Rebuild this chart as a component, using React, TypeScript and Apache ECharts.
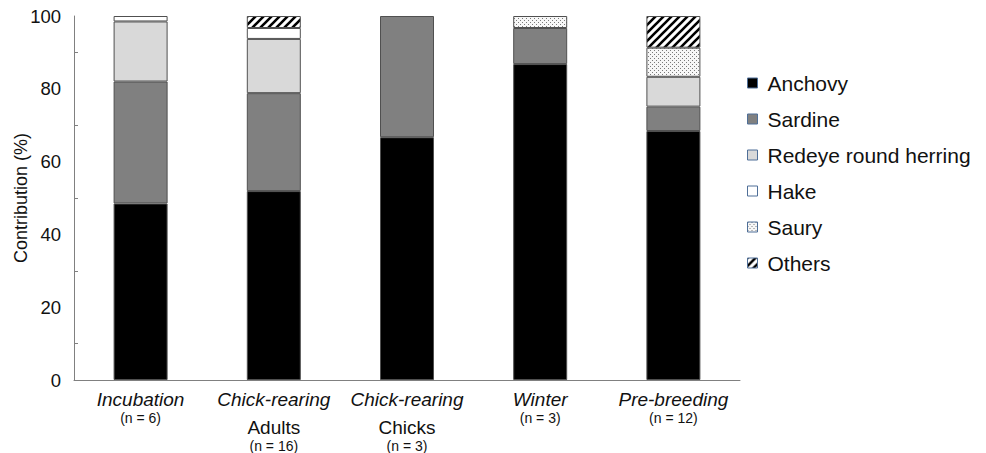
import React, { useEffect, useRef } from "react";
import * as echarts from "echarts";

const categories = ["Incubation", "Chick-rearing Adults", "Chick-rearing Chicks", "Winter", "Pre-breeding"];
const stageLabels = ["Incubation", "Chick-rearing", "Chick-rearing", "Winter", "Pre-breeding"];
const subLabels = ["", "Adults", "Chicks", "", ""];
const nLabels = ["(n = 6)", "(n = 16)", "(n = 3)", "(n = 3)", "(n = 12)"];

const seriesNames = ["Anchovy", "Sardine", "Redeye round herring", "Hake", "Saury", "Others"];
const anchovy = [48.5, 51.9, 66.7, 86.8, 68.4];
const sardine = [33.5, 26.9, 33.3, 9.9, 6.7];
const redeye = [16.5, 14.9, null, null, 8.2];
const hake = [1.5, 3.0, null, null, null];
const saury = [null, null, null, 3.3, 8.0];
const others = [null, 3.3, null, null, 8.7];

const yTicks = { min: 0, max: 100, interval: 20 };

function hatchCanvas() {
  const c = document.createElement("canvas");
  c.width = 8;
  c.height = 8;
  const g = c.getContext("2d")!;
  g.fillStyle = "#ffffff";
  g.fillRect(0, 0, 8, 8);
  g.strokeStyle = "#000000";
  g.lineWidth = 2.6;
  g.beginPath();
  g.moveTo(-2, 2);
  g.lineTo(2, -2);
  g.moveTo(-1, 9);
  g.lineTo(9, -1);
  g.moveTo(6, 10);
  g.lineTo(10, 6);
  g.stroke();
  return c;
}

function stippleCanvas() {
  const c = document.createElement("canvas");
  c.width = 4;
  c.height = 4;
  const g = c.getContext("2d")!;
  g.fillStyle = "#f7f7f7";
  g.fillRect(0, 0, 4, 4);
  g.fillStyle = "#7a7a7a";
  g.fillRect(0, 0, 1, 1);
  g.fillRect(2, 2, 1, 1);
  return c;
}

export default function App() {
  const ref = useRef<HTMLDivElement>(null);
  useEffect(() => {
    if (!ref.current) return;
    const chart = echarts.init(ref.current, undefined, { renderer: "svg" });
    const font = "'Liberation Sans', Arial, sans-serif";

    const hatch = { image: hatchCanvas(), repeat: "repeat", imageWidth: 8, imageHeight: 8 } as any;
    const stipple = { image: stippleCanvas(), repeat: "repeat", imageWidth: 4, imageHeight: 4 } as any;

    const colors: any[] = ["#000000", "#808080", "#d9d9d9", "#ffffff", stipple, hatch];
    const values = [anchovy, sardine, redeye, hake, saury, others];

    const series = seriesNames.map((name, i) => ({
      name,
      type: "bar",
      stack: "total",
      barWidth: 54,
      data: values[i].map((v) => (v == null ? "-" : v)),
      itemStyle: { color: colors[i], borderColor: "#505050", borderWidth: 1 },
    }));

    chart.setOption({
      animation: false,
      textStyle: { fontFamily: font },
      grid: { left: 74, right: 246, top: 16, bottom: 73, containLabel: false, outerBoundsMode: "none" },
      legend: {
        orient: "vertical",
        left: 742,
        top: 67,
        icon: "rect",
        itemWidth: 10,
        itemHeight: 10,
        itemGap: 14,
        itemStyle: { borderColor: "#4f6f98", borderWidth: 1 },
        textStyle: { fontSize: 21, lineHeight: 22, color: "#111111", fontFamily: font, padding: [0, 0, 0, 5] },
        data: seriesNames,
      },
      xAxis: {
        type: "category",
        data: categories,
        axisLine: { lineStyle: { color: "#808080", width: 1 } },
        axisTick: { show: false },
        axisLabel: {
          margin: 9,
          interval: 0,
          color: "#111111",
          hideOverlap: false,
          formatter: (_v: string, idx: number) => {
            const parts = [`{it|${stageLabels[idx]}}`];
            if (subLabels[idx]) {
              parts.push("{sp| }");
              parts.push(`{sub|${subLabels[idx]}}`);
            }
            parts.push(`{n|${nLabels[idx]}}`);
            return parts.join("\n");
          },
          rich: {
            it: { fontStyle: "italic", fontSize: 19, fontFamily: font, lineHeight: 21, color: "#111111" },
            sp: { fontSize: 1, lineHeight: 6.5 },
            sub: { fontSize: 19, fontFamily: font, lineHeight: 21, color: "#111111" },
            n: { fontSize: 14, fontFamily: font, lineHeight: 16, color: "#111111" },
          },
        },
      },
      yAxis: {
        type: "value",
        min: yTicks.min,
        max: yTicks.max,
        interval: yTicks.interval,
        name: "Contribution (%)",
        nameLocation: "middle",
        nameGap: 44,
        nameMoveOverlap: false,
        nameTextStyle: { fontSize: 18, color: "#111111", fontFamily: font },
        axisLine: { show: true, lineStyle: { color: "#808080", width: 1 } },
        axisTick: { show: false, inside: true },
        minorTick: { show: true, splitNumber: 2, length: 4, lineStyle: { color: "#808080" } },
        splitLine: { show: false },
        axisLabel: { fontSize: 18.5, color: "#111111", margin: 13 },
      },
      series,
    } as any);
    return () => chart.dispose();
  }, []);
  return <div ref={ref} style={{ position: "absolute", left: 0, top: 0, width: 986, height: 453 }} />;
}
